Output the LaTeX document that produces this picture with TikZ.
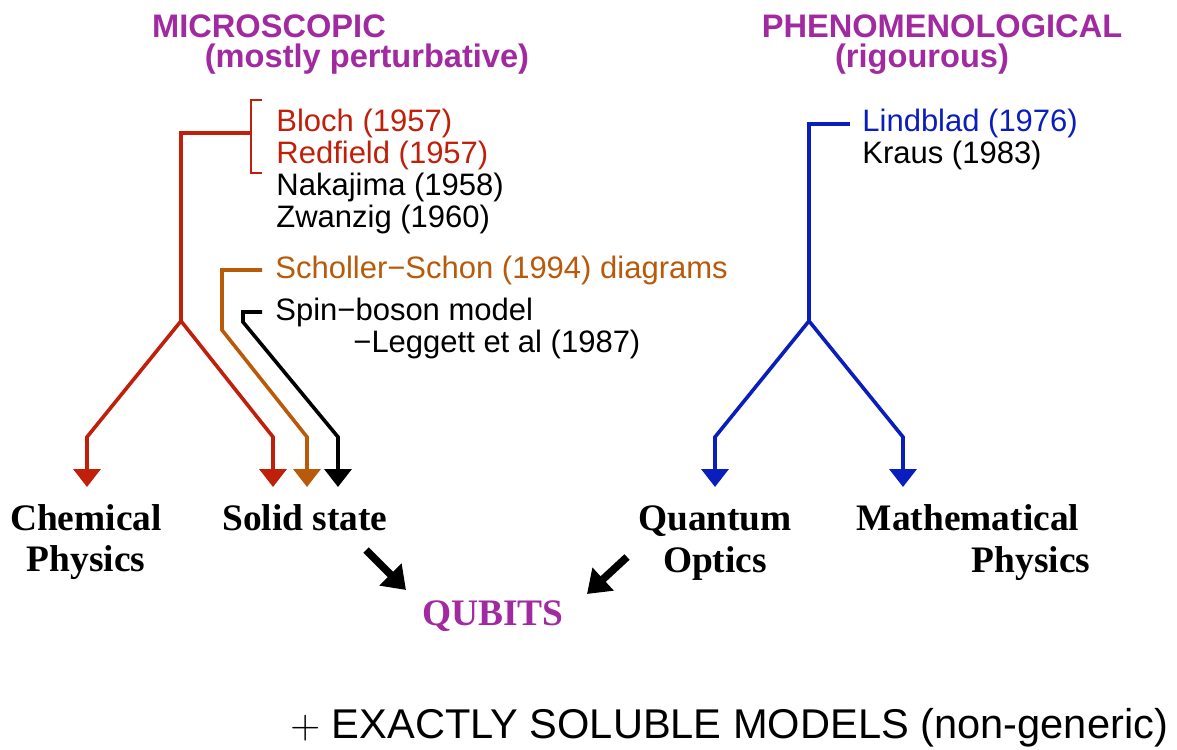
\documentclass[tikz,border=0pt]{standalone}
\usepackage{fontspec}
\setmainfont{Liberation Serif}
\setsansfont{Liberation Sans}
\usetikzlibrary{arrows.meta}
\definecolor{headpurple}{RGB}{161,42,160}
\definecolor{micred}{RGB}{192,32,10}
\definecolor{schorange}{RGB}{184,90,10}
\definecolor{phenblue}{RGB}{10,30,190}
\tikzset{
  head/.style={font=\sffamily\bfseries\fontsize{16.3}{16.3}\selectfont, text=headpurple, inner sep=0pt, anchor=base},
  ref/.style={font=\sffamily\fontsize{15.5}{15.5}\selectfont, inner sep=0pt, anchor=base west},
  field/.style={font=\rmfamily\bfseries\fontsize{18.7}{18.7}\selectfont, inner sep=0pt, anchor=base},
  trunk/.style={line width=1.8pt},
  branch/.style={line width=1.8pt, -{Triangle[width=13.5pt,length=9pt]}},
  feed/.style={line width=3.8pt, -{Triangle[width=15pt,length=11pt]}},
}
\begin{document}
\begin{tikzpicture}[x=0.5pt, y=-0.5pt]
  \useasboundingbox (0,0) rectangle (1177,749);
  % headings
  \node[head] (micro) at (269,38) {MICROSCOPIC};
  \node[head] (microsub) at (367,68) {(mostly perturbative)};
  \node[head] (pheno) at (942,38) {PHENOMENOLOGICAL};
  \node[head] (phenosub) at (922,68) {(rigourous)};
  % references, microscopic side
  \node[ref, text=micred] (bloch) at (276,132) {Bloch (1957)};
  \node[ref, text=micred] (redfield) at (276,163) {Redfield (1957)};
  \node[ref] (nakajima) at (276,195) {Nakajima (1958)};
  \node[ref] (zwanzig) at (276,227) {Zwanzig (1960)};
  \node[ref, text=schorange] (scholler) at (275,278) {Scholler−Schon (1994) diagrams};
  \node[ref] (spin) at (275,320) {Spin−boson model};
  \node[ref] (leggett) at (353,352) {−Leggett et al (1987)};
  % references, phenomenological side
  \node[ref, text=phenblue] (lindblad) at (862,132) {Lindblad (1976)};
  \node[ref] (kraus) at (862,163) {Kraus (1983)};
  % fields
  \node[field] (chem) at (86,530) {Chemical};
  \node[field] (chemphys) at (86,571) {Physics};
  \node[field] (solid) at (305,530) {Solid state};
  \node[field] (quantum) at (715,530) {Quantum};
  \node[field] (optics) at (715,572) {Optics};
  \node[field] (math) at (968,530) {Mathematical};
  \node[field] (mathphys) at (1031,572) {Physics};
  \node[field, text=headpurple] (qubits) at (493,625) {QUBITS};
  \node[anchor=base west, inner sep=0pt, font=\sffamily\fontsize{20.8}{20.8}\selectfont] (exact) at (290,738)
    {$+$ EXACTLY SOLUBLE MODELS (non-generic)};
  % red tree
  \coordinate (redtop) at (181,133);
  \coordinate (redfork) at (181,321);
  \coordinate (chemtip) at (87,487);
  \coordinate (solidred) at (273,487);
  \draw[micred, line width=0.75pt] (262,100) -- (251,100) -- (251,173) -- (262,173);
  \draw[micred, trunk] (251,133) -- (redtop) -- (redfork);
  \draw[micred, branch] (redfork) -- ++(-94,116) -- (chemtip);
  \draw[micred, branch] (redfork) -- ++(92,116) -- (solidred);
  % orange and black feeds into solid state
  \coordinate (solidorange) at (307,487);
  \coordinate (solidblack) at (338,487);
  \draw[schorange, branch] ([xshift=-6.5pt]scholler.west) -| (222,330) -- (307,437) -- (solidorange);
  \draw[branch] ([xshift=-6.5pt]spin.west) -| (243,322) -- (338,437) -- (solidblack);
  % blue tree
  \coordinate (bluefork) at (809,321);
  \coordinate (quanttip) at (715,487);
  \coordinate (mathtip) at (903,487);
  \draw[phenblue, trunk] ([xshift=-6pt]lindblad.west) -| (bluefork);
  \draw[phenblue, branch] (bluefork) -- ++(-94,116) -- (quanttip);
  \draw[phenblue, branch] (bluefork) -- ++(94,116) -- (mathtip);
  % into qubits
  \coordinate (solidout) at (366,550);
  \coordinate (qubitsleft) at (406,590);
  \coordinate (opticsout) at (627,557);
  \coordinate (qubitsright) at (587,594);
  \draw[feed] (solidout) -- (qubitsleft);
  \draw[feed] (opticsout) -- (qubitsright);
\end{tikzpicture}
\end{document}
